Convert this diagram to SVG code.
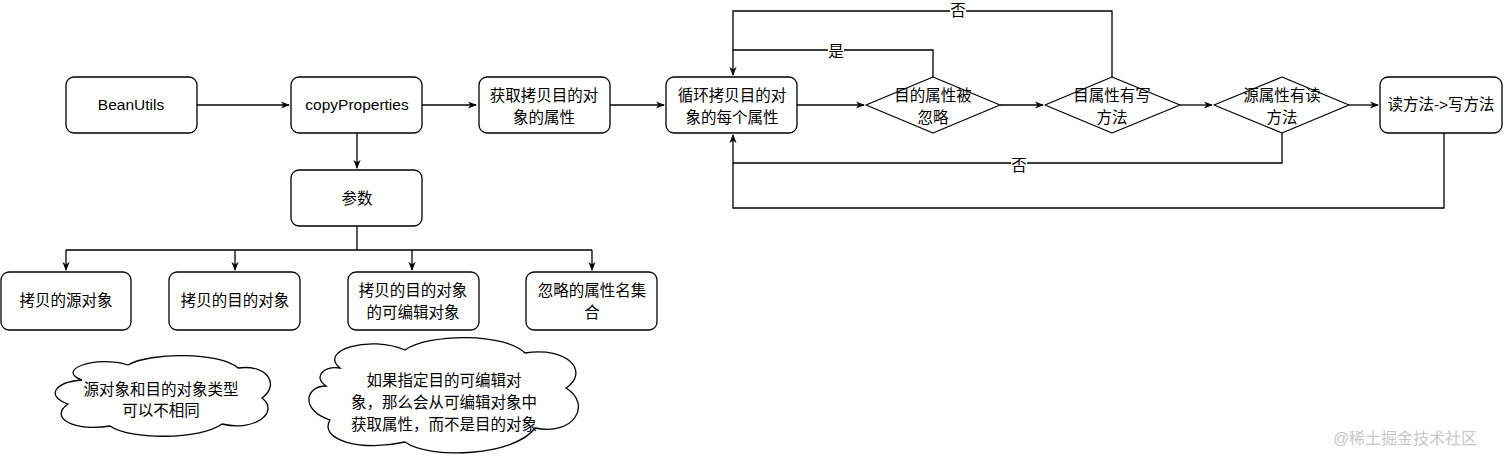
<svg xmlns="http://www.w3.org/2000/svg" width="1512" height="463" viewBox="0 0 1512 463">
<style>
.n{fill:#fff;stroke:#000;stroke-width:1.3}
text{font-family:"Liberation Sans","Noto Sans CJK SC",sans-serif;font-size:15.5px;fill:#000;text-anchor:middle}
.c{fill:none;stroke:#000;stroke-width:1.3}
</style>
<defs><marker id="a" viewBox="0 0 10 10" refX="9" refY="5" markerWidth="7" markerHeight="7" orient="auto"><path d="M0,1 L10,5 L0,9 L3,5 z" fill="#000"/></marker></defs>
<rect width="1512" height="463" fill="#fff"/>
<g id="connectors">
<path class="c" d="M197,105 H289" marker-end="url(#a)"/>
<path class="c" d="M422,105 H476" marker-end="url(#a)"/>
<path class="c" d="M610,105 H664" marker-end="url(#a)"/>
<path class="c" d="M797,105 H864" marker-end="url(#a)"/>
<path class="c" d="M1000,105 H1043" marker-end="url(#a)"/>
<path class="c" d="M1180,105 H1212" marker-end="url(#a)"/>
<path class="c" d="M1349,105 H1378" marker-end="url(#a)"/>
<path class="c" d="M933,77 V50 H733 V75" marker-end="url(#a)"/>
<path class="c" d="M1112,77 V11 H733 V50"/>
<path class="c" d="M1282,133 V163 H733 V135" marker-end="url(#a)"/>
<path class="c" d="M1444,133 V208 H733 V163"/>
<path class="c" d="M357,133 V168" marker-end="url(#a)"/>
<path class="c" d="M357,226 V250 M66,250 H592"/>
<path class="c" d="M66,250 V270" marker-end="url(#a)"/>
<path class="c" d="M235,250 V270" marker-end="url(#a)"/>
<path class="c" d="M412,250 V270" marker-end="url(#a)"/>
<path class="c" d="M592,250 V270" marker-end="url(#a)"/>
<rect x="950" y="3" width="16" height="16" fill="#fff"/><text x="958" y="16">否</text>
<rect x="828" y="43" width="16" height="16" fill="#fff"/><text x="836" y="57">是</text>
<rect x="1011" y="156" width="16" height="16" fill="#fff"/><text x="1019" y="171">否</text>
</g>
<g id="beanutils"><rect class="n" x="66" y="77" width="131" height="56" rx="8"/><text x="131" y="110">BeanUtils</text></g>
<g id="copyProperties"><rect class="n" x="291" y="77" width="131" height="56" rx="8"/><text x="357" y="110">copyProperties</text></g>
<g id="getProps"><rect class="n" x="479" y="77" width="131" height="56" rx="8"/><text x="544" y="101">获取拷贝目的对</text><text x="544" y="123">象的属性</text></g>
<g id="loop"><rect class="n" x="666" y="77" width="131" height="56" rx="8"/><text x="732" y="101">循环拷贝目的对</text><text x="732" y="123">象的每个属性</text></g>
<g id="ignored"><path class="n" d="M933,77 L1000,105 L933,133 L866,105 Z" stroke-linejoin="round"/><text x="933" y="101">目的属性被</text><text x="933" y="123">忽略</text></g>
<g id="hasWrite"><path class="n" d="M1112,77 L1180,105 L1112,133 L1045,105 Z" stroke-linejoin="round"/><text x="1112" y="101">目属性有写</text><text x="1112" y="123">方法</text></g>
<g id="hasRead"><path class="n" d="M1282,77 L1349,105 L1282,133 L1214,105 Z" stroke-linejoin="round"/><text x="1282" y="101">源属性有读</text><text x="1282" y="123">方法</text></g>
<g id="readWrite"><rect class="n" x="1380" y="77" width="122" height="56" rx="8"/><text x="1441" y="110">读方法-&gt;写方法</text></g>
<g id="params"><rect class="n" x="291" y="170" width="131" height="56" rx="8"/><text x="357" y="204">参数</text></g>
<g id="src"><rect class="n" x="1" y="272" width="130" height="58" rx="8"/><text x="66" y="306">拷贝的源对象</text></g>
<g id="dst"><rect class="n" x="169" y="272" width="131" height="58" rx="8"/><text x="235" y="306">拷贝的目的对象</text></g>
<g id="editable"><rect class="n" x="348" y="272" width="131" height="58" rx="8"/><text x="413" y="296">拷贝的目的对象</text><text x="413" y="318">的可编辑对象</text></g>
<g id="ignoreSet"><rect class="n" x="526" y="272" width="131" height="58" rx="8"/><text x="592" y="296">忽略的属性名集</text><text x="592" y="318">合</text></g>
<g id="cloud1"><path class="n" d="M82,380 C55,370 95,355 128,365 C150,352 220,352 238,368 C268,364 280,385 262,398 C280,412 255,432 222,424 C200,440 130,440 110,426 C75,432 48,418 68,404 C45,396 55,382 82,380 Z"/><text x="161" y="395">源对象和目的对象类型</text><text x="161" y="416">可以不相同</text></g>
<g id="cloud2"><path class="n" d="M340,368 C318,350 370,335 405,350 C430,333 505,333 525,353 C568,346 590,372 566,388 C592,404 575,436 535,428 C515,456 430,460 405,442 C362,452 318,440 330,420 C300,410 305,386 326,386 C312,376 325,366 340,368 Z"/><text x="444" y="386">如果指定目的可编辑对</text><text x="444" y="408">象，那么会从可编辑对象中</text><text x="444" y="430">获取属性，而不是目的对象</text></g>
<text x="1405" y="444" style="fill:#c8c8c8;font-size:16px">@稀土掘金技术社区</text>
</svg>
